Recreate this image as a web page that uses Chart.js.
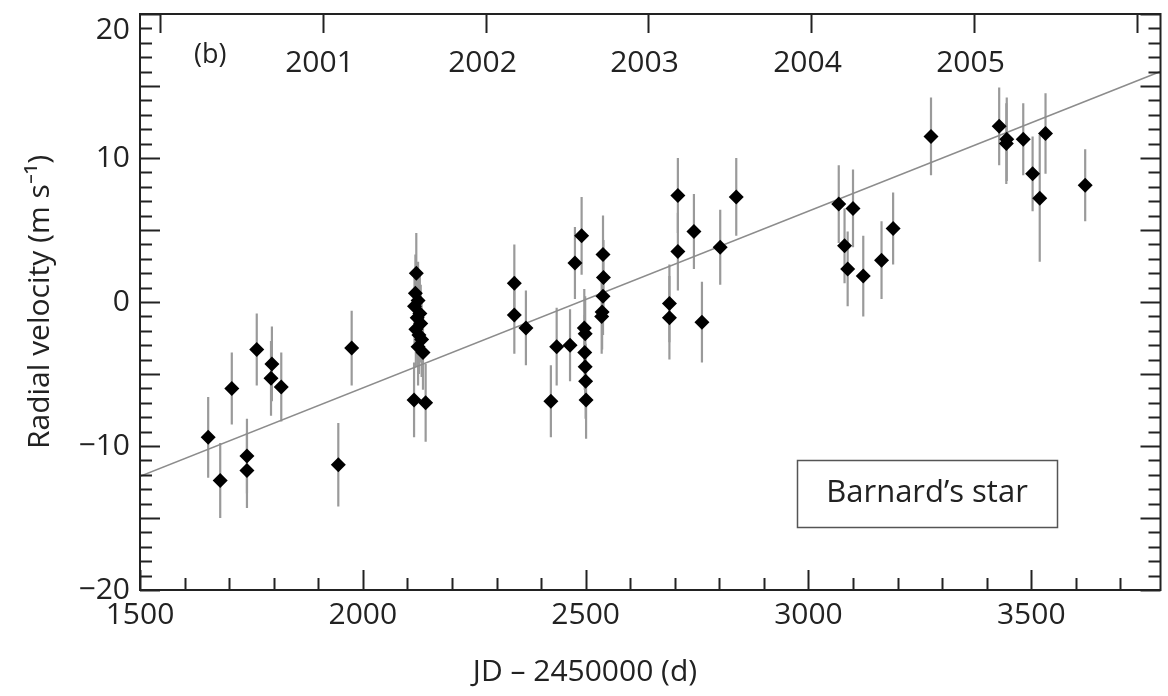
<!DOCTYPE html>
<html>
<head>
<meta charset="utf-8">
<script src="https://cdn.jsdelivr.net/npm/chart.js@4/dist/chart.umd.min.js"></script>
<style>
  html, body { margin: 0; padding: 0; background: #fff; }
  #wrap { width: 1168px; height: 696px; }
</style>
</head>
<body>
<div id="wrap"><canvas id="rvChart"></canvas></div>
<script>
// Barnard's star radial velocities, JD - 2450000 vs RV (m/s) with 1-sigma errors
const jd = [
  1653, 1680, 1706, 1740, 1740, 1762, 1796, 1794, 1817, 1945, 1975,
  2120, 2118, 2124, 2116, 2128, 2122, 2130, 2119, 2126, 2132, 2124, 2135, 2115, 2141,
  2340, 2340, 2366, 2422, 2435, 2465, 2476, 2491,
  2497, 2499, 2498, 2499, 2500, 2501,
  2539, 2540, 2539, 2537, 2536,
  2688, 2688, 2707, 2707, 2743, 2761, 2802, 2838,
  3068, 3100, 3081, 3088, 3123, 3164, 3190,
  3275, 3428, 3445, 3444, 3482, 3503, 3519, 3532, 3621
];
const rv = [
  -9.4, -12.4, -6.0, -10.7, -11.7, -3.3, -4.3, -5.3, -5.9, -11.3, -3.2,
  2.0, 0.6, 0.1, -0.3, -0.8, -1.1, -1.5, -1.9, -2.3, -2.6, -3.1, -3.5, -6.8, -7.0,
  1.3, -0.9, -1.8, -6.9, -3.1, -3.0, 2.7, 4.6,
  -1.8, -2.2, -3.5, -4.5, -5.5, -6.8,
  3.3, 1.7, 0.4, -0.7, -1.0,
  -0.1, -1.1, 7.4, 3.5, 4.9, -1.4, 3.8, 7.3,
  6.8, 6.5, 3.9, 2.3, 1.8, 2.9, 5.1,
  11.5, 12.2, 11.3, 11.0, 11.3, 8.9, 7.2, 11.7, 8.1
];
const rvErr = [
  2.8, 2.6, 2.5, 2.6, 2.6, 2.5, 2.6, 2.6, 2.4, 2.9, 2.6,
  2.8, 2.7, 2.7, 2.6, 2.7, 2.6, 2.7, 2.6, 2.7, 2.6, 2.7, 2.6, 2.6, 2.7,
  2.7, 2.7, 2.6, 2.5, 2.7, 2.5, 2.5, 2.7,
  2.7, 2.6, 2.6, 2.6, 2.6, 2.7,
  2.7, 2.6, 2.7, 2.6, 2.6,
  2.7, 2.9, 2.6, 2.7, 2.6, 2.8, 2.6, 2.7,
  2.7, 2.7, 2.6, 2.6, 2.8, 2.7, 2.5,
  2.7, 2.7, 2.9, 2.8, 2.5, 2.6, 4.4, 2.8, 2.5
];

// linear trend (secular acceleration), endpoints
const fitX = [1500, 3790];
const fitY = [-12.1, 16.0];

// tick labels
const xTicks = [1500, 2000, 2500, 3000, 3500];
const yTicks = [-20, -10, 0, 10, 20];

// calendar years along the top edge (JD - 2450000 of Jan 1)
const yearJD = [1544.5, 1910.5, 2275.5, 2640.5, 3005.5, 3371.5, 3736.5];
const yearLabels = ['', '2001', '2002', '2003', '2004', '2005', ''];

const X_MIN = 1500, X_MAX = 3790, Y_MIN = -20, Y_MAX = 20;
const FONT = "'Open Sans', sans-serif";
const INK = '#222';

const fmtY = v => (v < 0 ? '\u2212' + Math.abs(v) : String(v));

// frame, inward ticks, error bars and annotations
const decorations = {
    id: 'decorations',
    beforeDatasetsDraw(chart) {
        const { ctx, chartArea: a, scales: { x, y } } = chart;
        ctx.save();
        ctx.beginPath();
        ctx.rect(a.left, a.top, a.right - a.left, a.bottom - a.top);
        ctx.clip();
        ctx.strokeStyle = '#9a9a9a';
        ctx.lineWidth = 2.2;
        for (let i = 0; i < jd.length; i++) {
            const px = x.getPixelForValue(jd[i]);
            ctx.beginPath();
            ctx.moveTo(px, y.getPixelForValue(rv[i] + rvErr[i]));
            ctx.lineTo(px, y.getPixelForValue(rv[i] - rvErr[i]));
            ctx.stroke();
        }
        ctx.restore();
    },
    afterDatasetsDraw(chart) {
        const { ctx, chartArea: a, scales: { x, y } } = chart;
        ctx.save();
        ctx.strokeStyle = INK;
        ctx.lineWidth = 2;

        // bottom ticks
        for (let v = X_MIN; v <= X_MAX; v += 100) {
            const px = Math.round(x.getPixelForValue(v)) + 0.5;
            const len = v % 500 === 0 ? 20 : 12;
            ctx.beginPath();
            ctx.moveTo(px, a.bottom);
            ctx.lineTo(px, a.bottom - len);
            ctx.stroke();
        }
        // left and right ticks
        for (let v = Y_MIN; v <= Y_MAX; v += 1) {
            const py = Math.round(y.getPixelForValue(v)) + 0.5;
            const len = v % 5 === 0 ? 20 : 12;
            ctx.beginPath();
            ctx.moveTo(a.left, py);
            ctx.lineTo(a.left + len, py);
            ctx.moveTo(a.right, py);
            ctx.lineTo(a.right - len, py);
            ctx.stroke();
        }
        // top: year ticks and labels
        ctx.fillStyle = INK;
        ctx.font = '30px ' + FONT;
        ctx.textAlign = 'center';
        ctx.textBaseline = 'middle';
        yearJD.forEach((v, i) => {
            if (v > X_MAX) return;
            const px = Math.round(x.getPixelForValue(v)) + 0.5;
            ctx.beginPath();
            ctx.moveTo(px, a.top);
            ctx.lineTo(px, a.top + 19);
            ctx.stroke();
            if (yearLabels[i]) ctx.fillText(yearLabels[i], px - 4, a.top + 49);
        });

        // top y label sits lower than its tick in the original
        ctx.textAlign = 'right';
        ctx.fillText(fmtY(Y_MAX), a.left - 10, a.top + 16);

        // frame
        ctx.lineWidth = 2;
        ctx.strokeRect(a.left, a.top, a.right - a.left, a.bottom - a.top);

        // panel tag
        ctx.font = '27px ' + FONT;
        ctx.textAlign = 'left';
        ctx.fillText('(b)', a.left + 54, a.top + 41);

        // label box
        ctx.lineWidth = 1.5;
        ctx.strokeStyle = '#555';
        ctx.strokeRect(797.5, 460.5, 260, 67);
        ctx.font = '31px ' + FONT;
        ctx.textAlign = 'center';
        ctx.fillText('Barnard\u2019s star', 927, 493);

        // x axis title
        ctx.font = '30px ' + FONT;
        ctx.fillText('JD \u2013 2450000 (d)', 585, 672);
        ctx.restore();
    }
};

const ctx = document.getElementById('rvChart').getContext('2d');
new Chart(ctx, {
    type: 'scatter',
    data: {
        datasets: [{
            label: 'RV',
            data: jd.map((v, i) => ({ x: v, y: rv[i] })),
            pointStyle: 'rectRot',
            pointRadius: 7.5,
            pointHoverRadius: 7.5,
            backgroundColor: '#000',
            borderColor: '#000',
            borderWidth: 0,
            order: 1
        }, {
            type: 'line',
            label: 'trend',
            data: fitX.map((v, i) => ({ x: v, y: fitY[i] })),
            borderColor: '#8c8c8c',
            borderWidth: 1.6,
            pointRadius: 0,
            fill: false,
            order: 2
        }]
    },
    options: {
        responsive: true,
        maintainAspectRatio: false,
        animation: false,
        layout: { padding: { top: 14, right: 3, left: 0, bottom: 0 } },
        plugins: {
            legend: { display: false },
            title: { display: false },
            tooltip: { enabled: false }
        },
        scales: {
            x: {
                type: 'linear',
                min: X_MIN,
                max: X_MAX,
                grid: { display: false, drawTicks: false },
                border: { display: false },
                afterBuildTicks: s => { s.ticks = xTicks.map(v => ({ value: v })); },
                ticks: {
                    padding: 7,
                    color: INK,
                    font: { family: FONT, size: 30 },
                    maxRotation: 0,
                    autoSkip: false,
                    callback: v => String(v)
                },
                afterFit: s => {
                    s.height = 106;
                    s.paddingLeft = 0;
                    s.paddingRight = 0;
                }
            },
            y: {
                min: Y_MIN,
                max: Y_MAX,
                grid: { display: false, drawTicks: false },
                border: { display: false },
                afterBuildTicks: s => { s.ticks = yTicks.map(v => ({ value: v })); },
                ticks: {
                    padding: 10,
                    color: INK,
                    font: { family: FONT, size: 30 },
                    autoSkip: false,
                    callback: v => (v === Y_MAX ? '' : fmtY(v))
                },
                title: {
                    display: true,
                    text: 'Radial velocity (m s\u207B\u00B9)',
                    color: INK,
                    font: { family: FONT, size: 30 },
                    padding: { top: 22, bottom: 0 }
                },
                afterFit: s => {
                    s.width = 140;
                    s.paddingTop = 0;
                    s.paddingBottom = 0;
                }
            }
        }
    },
    plugins: [decorations]
});
</script>
</body>
</html>
